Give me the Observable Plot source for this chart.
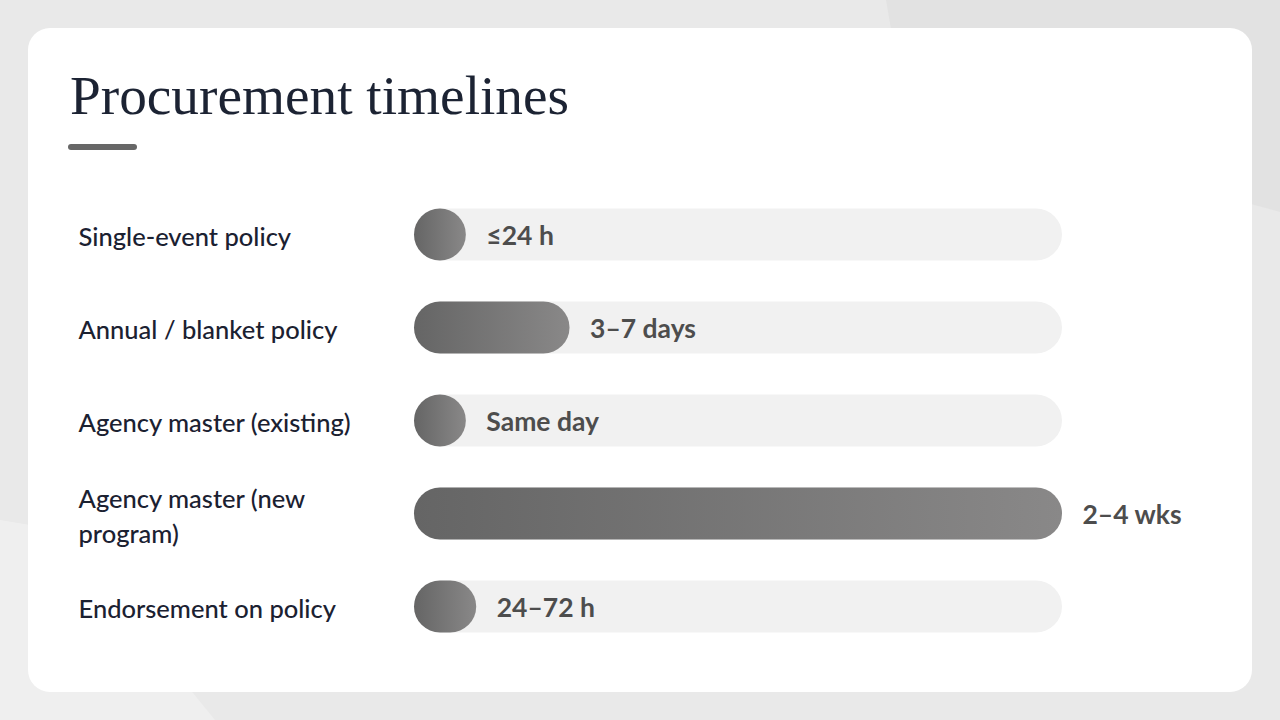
<!DOCTYPE html>
<html><head><meta charset="utf-8">
<script src="https://cdn.jsdelivr.net/npm/d3@7"></script>
<script src="https://cdn.jsdelivr.net/npm/@observablehq/plot@0.6"></script>
<style>
html,body{margin:0;padding:0;width:1280px;height:720px;overflow:hidden;background:#e9e9e9;}
.bg1{position:absolute;left:0;top:0;width:1280px;height:720px;background:#e2e2e2;clip-path:polygon(886px 0,1280px 0,1280px 212px,905px 110px);}
.bg2{position:absolute;left:0;top:0;width:1280px;height:720px;background:#efefef;clip-path:polygon(0 520px,60px 530px,215px 720px,0 720px);}
.card{position:absolute;left:28px;top:28px;width:1224px;height:664px;background:#fff;border-radius:22px;}
h1{position:absolute;left:42px;top:40px;margin:0;font-family:"Liberation Serif",serif;font-weight:400;font-size:55.3px;line-height:56px;color:#1c2333;white-space:nowrap;}
.rule{position:absolute;left:40px;top:116px;width:69px;height:6px;border-radius:3px;background:#676767;}
#chart{position:absolute;left:0;top:159px;line-height:0;}
#chart svg{display:block;}
</style></head>
<body>
<div class="bg1"></div><div class="bg2"></div>
<div class="card">
  <h1>Procurement timelines</h1>
  <div class="rule"></div>
  <div id="chart"></div>
</div>
<script>
const categories = ["Single-event policy","Annual / blanket policy","Agency master (existing)","Agency master (new program)","Endorsement on policy"];
const durationLabels = ["≤24 h","3–7 days","Same day","2–4 wks","24–72 h"];
const relativeLength = [8, 24, 8, 100, 9.6]; // bar length as share of the longest timeline
const trackMax = 100;

const rows = categories.map((c, i) => ({category: c, label: durationLabels[i], value: relativeLength[i]}));

const inset = 20.6;
const plot = Plot.plot({
  width: 1224, height: 466,
  marginLeft: 386, marginRight: 190, marginTop: 0, marginBottom: 0,
  x: {domain: [0, trackMax], axis: null},
  y: {domain: categories, axis: null, padding: 0},
  style: {background: "transparent", overflow: "visible"},
  marks: [
    Plot.barX(rows, {x1: 0, x2: trackMax, y: "category", fill: "#f1f1f1", rx: 26, insetTop: inset, insetBottom: inset}),
    Plot.barX(rows, {x1: 0, x2: "value", y: "category", fill: "url(#barGrad)", rx: 26, insetTop: inset, insetBottom: inset}),
    Plot.text(rows, {x: "value", y: "category", text: "label", textAnchor: "start", dx: 20, dy: 1.5, fill: "#4d4d4d", fontSize: 26.5, fontWeight: 700, fontFamily: "Lato"}),
    Plot.text(rows, {y: "category", text: "category", frameAnchor: "left", textAnchor: "start", dx: -336, fill: "#1b2131", fontSize: 25.5, fontWeight: 500, fontFamily: "Lato", lineWidth: 13.5, lineHeight: 1.38})
  ]
});
const svg = d3.select(plot);
const defs = svg.insert("defs", ":first-child");
const g = defs.append("linearGradient").attr("id", "barGrad").attr("x1", 0).attr("x2", 1).attr("y1", 0).attr("y2", 0);
g.append("stop").attr("offset", 0).attr("stop-color", "#656565");
g.append("stop").attr("offset", 1).attr("stop-color", "#898888");
document.getElementById("chart").appendChild(plot);
</script>
</body></html>
